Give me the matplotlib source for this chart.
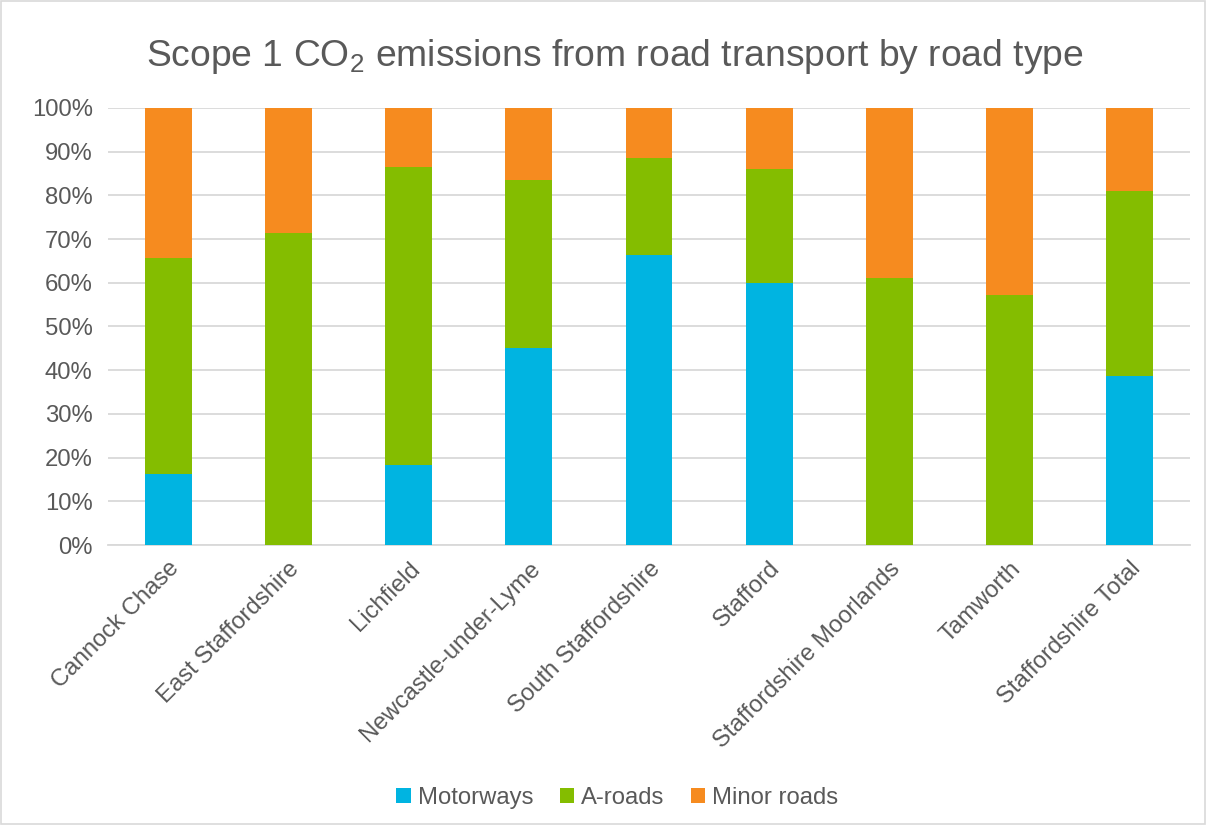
import matplotlib
matplotlib.use("Agg")
import matplotlib.pyplot as plt
import numpy as np

categories = ["Cannock Chase", "East Staffordshire", "Lichfield", "Newcastle-under-Lyme",
              "South Staffordshire", "Stafford", "Staffordshire Moorlands", "Tamworth",
              "Staffordshire Total"]
motorways = [16.3, 0.0, 18.2, 45.0, 66.3, 60.0, 0.0, 0.0, 38.6]
a_roads = [49.3, 71.3, 68.3, 38.6, 22.2, 26.0, 61.0, 57.1, 42.5]
minor_roads = [34.4, 28.7, 13.5, 16.4, 11.5, 14.0, 39.0, 42.9, 18.9]
yticks = [0, 10, 20, 30, 40, 50, 60, 70, 80, 90, 100]

plt.rcParams['font.family'] = ['Liberation Sans', 'DejaVu Sans']
plt.rcParams['mathtext.fontset'] = 'custom'
plt.rcParams['mathtext.rm'] = 'Liberation Sans'
plt.rcParams['mathtext.it'] = 'Liberation Sans'
plt.rcParams['mathtext.bf'] = 'Liberation Sans'

TXT = '#595959'
FS = 17.2
fig = plt.figure(figsize=(12.06, 8.25), dpi=100)
ax = fig.add_axes([108/1206, 1-545/825, (1190-108)/1206, (545-108)/825])

x = np.arange(len(categories))
w = 0.39
c_m, c_a, c_n = '#00B4E1', '#84BD00', '#F68B1F'
ax.bar(x, motorways, w, color=c_m, label='Motorways', zorder=3)
ax.bar(x, a_roads, w, bottom=motorways, color=c_a, label='A-roads', zorder=3)
bot2 = np.array(motorways) + np.array(a_roads)
ax.bar(x, minor_roads, w, bottom=bot2, color=c_n, label='Minor roads', zorder=3)

ax.set_xlim(-0.5, len(categories) - 0.5)
ax.set_ylim(0, 100)
ax.set_yticks(yticks)
ax.set_yticklabels([f"{v}%" for v in yticks])
ax.yaxis.grid(True, color='#D9D9D9', linewidth=1.3, zorder=0)
ax.set_axisbelow(True)
for s in ['top', 'right', 'left']:
    ax.spines[s].set_visible(False)
ax.spines['bottom'].set_color('#D9D9D9')
ax.spines['bottom'].set_linewidth(1.3)
ax.tick_params(axis='both', length=0, colors=TXT, labelsize=FS)
ax.tick_params(axis='y', pad=11)
ax.set_xticks(x)
ax.set_xticklabels(categories, rotation=45, ha='right', rotation_mode='anchor')
ax.tick_params(axis='x', pad=9)

fig.text(0.510, 1-57/825, "Scope 1 CO$_2$ emissions from road transport by road type",
         ha='center', va='center', fontsize=26.8, color=TXT)

leg = fig.legend(loc='center', bbox_to_anchor=(0.512, 1-798/825), ncol=3, frameon=False,
                 fontsize=FS, handlelength=0.6, handleheight=0.6, handletextpad=0.3,
                 columnspacing=1.1, labelcolor=TXT)

# chart border
fig.patches.append(plt.Rectangle((0.001, 0.001), 0.998, 0.998, transform=fig.transFigure,
                                 fill=False, edgecolor='#D9D9D9', linewidth=1.2))

fig.savefig("out.png", dpi=100)
